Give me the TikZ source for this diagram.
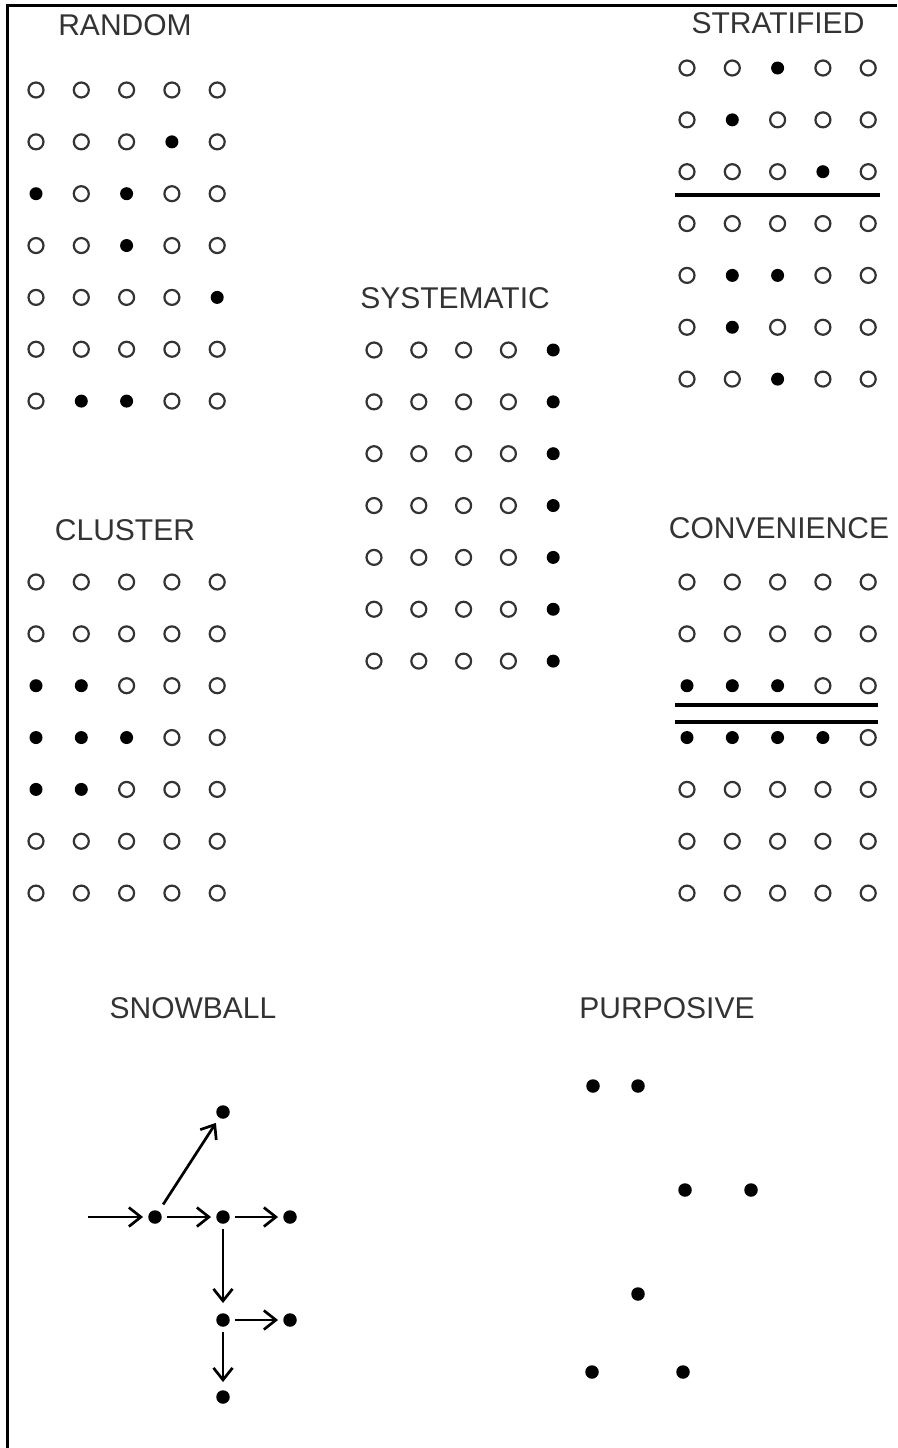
\documentclass[tikz,border=0pt]{standalone}
\usepackage{fontspec}
\setmainfont{Liberation Sans}
\usetikzlibrary{arrows.meta}
\makeatletter
\newcommand\dotgrid[5]{% name, x0, y0, xstep, filled list
  \foreach \r in {1,...,7}{%
    \foreach \c in {1,...,5}{%
      \edef\gridtmp{\noexpand\in@{,\r-\c,}{,#5,}}\gridtmp
      \ifin@
        \node[full] (#1-\r-\c) at ({#2+(\c-1)*#4},{#3+(\r-1)*51.85}) {};
      \else
        \node[open] (#1-\r-\c) at ({#2+(\c-1)*#4},{#3+(\r-1)*51.85}) {};
      \fi
    }%
  }%
}
\makeatother
\begin{document}
\begin{tikzpicture}[x=1pt,y=-1pt,
  open/.style={circle,draw=black!80,line width=2.2pt,minimum size=15pt,inner sep=0pt},
  full/.style={circle,fill=black,minimum size=13pt,inner sep=0pt},
  sdot/.style={circle,fill=black,minimum size=13.5pt,inner sep=0pt},
  lab/.style={font=\fontsize{30}{31}\selectfont,text=black!80,anchor=base,inner sep=0pt},
  sep/.style={line width=3.2pt},
  arr/.style={line width=2.7pt,-{Straight Barb[length=12pt,width=19pt,line width=2.7pt]},shorten >=5pt,shorten <=5pt}]
\useasboundingbox (0,0) rectangle (897,1448);
\fill[white] (0,0) rectangle (897,1448);
% frame
\draw[line width=3pt] (7,1448) -- (7,5) -- (897,5);

% titles
\node[lab] (tRandom) at (125,35) {RANDOM};
\node[lab] (tStrat) at (778,33) {STRATIFIED};
\node[lab] (tSys) at (455,308) {SYSTEMATIC};
\node[lab] (tClus) at (125,540) {CLUSTER};
\node[lab] (tConv) at (779,538) {CONVENIENCE};
\node[lab] (tSnow) at (193,1018) {SNOWBALL};
\node[lab] (tPurp) at (667,1018) {PURPOSIVE};

% grids
\dotgrid{R}{36}{90}{45.3}{2-4,3-1,3-3,4-3,5-5,7-2,7-3}
\dotgrid{S}{687}{68}{45.3}{1-3,2-2,3-4,5-2,5-3,6-2,7-3}
\dotgrid{Y}{374}{350}{44.8}{1-5,2-5,3-5,4-5,5-5,6-5,7-5}
\dotgrid{C}{36}{582}{45.3}{3-1,3-2,4-1,4-2,4-3,5-1,5-2}
\dotgrid{V}{687}{582}{45.3}{3-1,3-2,3-3,4-1,4-2,4-3,4-4}

% separators
\draw[sep] (675,195) -- (880,195);
\draw[sep] (675,705) -- (878,705);
\draw[sep] (675,722) -- (878,722);

% snowball
\coordinate (in) at (88,1217);
\node[sdot] (a) at (155,1217) {};
\node[sdot] (top) at (223,1112) {};
\node[sdot] (b) at (223,1217) {};
\node[sdot] (c) at (290,1217) {};
\node[sdot] (d) at (223,1320) {};
\node[sdot] (e) at (290,1320) {};
\node[sdot] (f) at (223,1397) {};
\draw[arr,shorten <=0pt] (in) -- (a);
\draw[arr] (a) -- (b);
\draw[arr] (b) -- (c);
\draw[arr,shorten <=8pt,shorten >=6pt] (a) -- (top);
\draw[arr,shorten <=5pt,shorten >=10pt] (b) -- (d);
\draw[arr] (d) -- (e);
\draw[arr,shorten <=5pt,shorten >=8pt] (d) -- (f);

% purposive
\node[sdot] (p1) at (593,1086) {};
\node[sdot] (p2) at (638,1086) {};
\node[sdot] (p3) at (685,1190) {};
\node[sdot] (p4) at (751,1190) {};
\node[sdot] (p5) at (638,1294) {};
\node[sdot] (p6) at (592,1372) {};
\node[sdot] (p7) at (683,1372) {};
\end{tikzpicture}
\end{document}
